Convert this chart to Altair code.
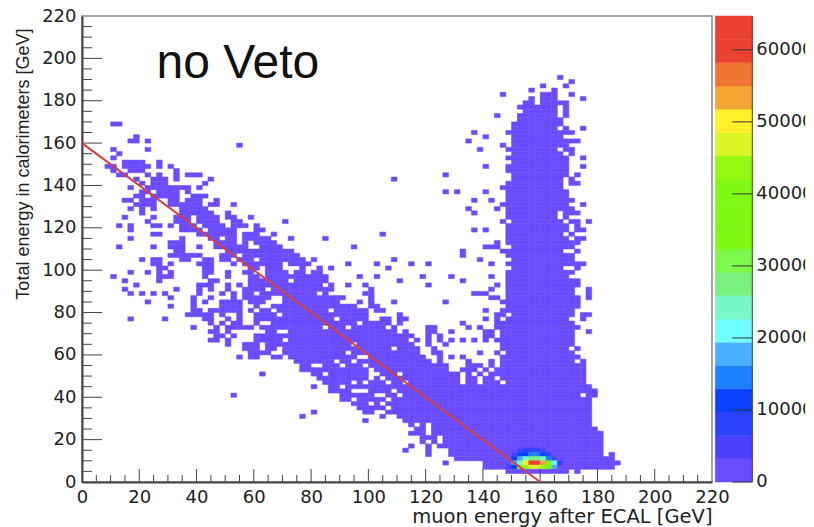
import altair as alt
import pandas as pd

alt.data_transformers.disable_max_rows()

# occupied bins per y-bin start: spans of x-bin edges in GeV (2 GeV bins)
rows = {
190: [(166,168)],
188: [(170,172)],
186: [(160,162),(168,170)],
184: [(156,158),(164,166)],
182: [(146,148),(160,166),(170,172)],
180: [(156,158),(160,166),(174,176)],
178: [(154,158),(160,170)],
176: [(152,166),(168,170)],
174: [(154,166),(168,170)],
172: [(144,146),(152,166),(168,170)],
170: [(152,168)],
168: [(10,14),(150,168)],
166: [(150,166),(168,170),(174,176)],
164: [(136,138),(148,172)],
162: [(18,20),(140,142),(150,168)],
160: [(16,20),(22,24),(134,136),(150,174)],
158: [(54,56),(146,148),(150,170)],
156: [(10,12),(22,24),(138,140),(148,166),(168,172)],
154: [(12,14),(150,168),(170,172)],
152: [(10,12),(148,170),(174,176)],
150: [(14,22),(26,28),(150,170)],
148: [(8,12),(14,24),(26,28),(30,32),(140,142),(148,170),(174,176)],
146: [(10,12),(16,22),(32,34),(148,170)],
144: [(12,16),(22,24),(26,28),(32,34),(36,42),(126,128),(150,170),(172,174)],
142: [(18,20),(24,30),(32,34),(44,46),(108,110),(150,168),(170,172)],
140: [(20,22),(24,30),(42,44),(148,168),(170,174)],
138: [(16,18),(22,38),(40,42),(146,168)],
136: [(20,24),(26,34),(36,38),(126,128),(130,132),(140,142),(148,170)],
134: [(18,22),(24,34),(38,44),(148,170)],
132: [(14,18),(20,26),(30,34),(36,42),(46,48),(136,138),(142,144),(148,172)],
130: [(18,26),(30,42),(44,48),(52,54),(146,170),(174,176)],
128: [(16,18),(20,22),(24,26),(34,44),(134,136),(144,146),(148,172)],
126: [(20,22),(34,46),(50,52),(136,138),(148,166),(168,174)],
124: [(14,16),(24,26),(32,38),(40,48),(50,54),(58,60),(148,166),(168,170)],
122: [(22,24),(32,38),(40,48),(52,56),(70,72),(146,148),(150,168),(170,174),(176,178)],
120: [(12,14),(16,18),(24,28),(30,32),(34,40),(42,50),(52,58),(60,62),(148,170),(172,174)],
118: [(16,18),(34,42),(44,54),(60,64),(136,138),(140,142),(148,170),(172,176)],
116: [(24,28),(40,54),(56,62),(66,68),(104,106),(148,168),(170,172)],
114: [(16,18),(34,36),(44,48),(50,54),(56,66),(72,74),(84,86),(148,170),(172,176)],
112: [(30,36),(46,54),(56,68),(144,146),(148,174)],
110: [(12,14),(24,26),(30,36),(40,42),(46,58),(60,70),(94,96),(140,146),(150,172)],
108: [(32,36),(48,74),(132,134),(146,148),(148,168),(172,174)],
106: [(30,42),(48,76),(132,134),(148,172)],
104: [(20,22),(24,28),(34,38),(42,46),(48,52),(54,78),(80,82),(108,110),(138,140),(150,172)],
102: [(24,28),(30,32),(40,46),(52,54),(56,70),(72,80),(92,94),(102,104),(114,116),(120,122),(142,144),(148,176)],
100: [(26,30),(42,46),(58,70),(76,78),(82,84),(86,88),(106,108),(150,168),(172,174)],
98: [(16,18),(22,24),(26,28),(30,32),(42,46),(50,52),(56,60),(64,72),(74,78),(80,84),(148,172)],
96: [(10,12),(26,32),(42,44),(50,52),(58,62),(64,86),(96,98),(102,104),(118,120),(128,130),(142,144),(148,170)],
94: [(14,16),(26,28),(44,48),(58,86),(110,112),(132,134),(148,174)],
92: [(18,20),(40,46),(50,52),(54,56),(58,84),(86,88),(92,94),(98,100),(120,122),(144,146),(148,174)],
90: [(14,16),(32,34),(40,42),(44,46),(50,52),(56,64),(66,88),(100,102),(142,144),(148,172),(176,178)],
88: [(16,18),(20,22),(24,26),(28,30),(40,42),(48,50),(52,54),(56,60),(62,86),(98,102),(136,142),(148,172),(176,178)],
86: [(30,32),(38,40),(44,46),(52,54),(56,66),(70,92),(100,102),(142,146),(148,174),(176,178)],
84: [(22,24),(38,40),(42,44),(48,56),(58,64),(70,94),(96,98),(100,102),(108,110),(126,128),(146,174)],
82: [(30,32),(38,40),(48,56),(60,62),(66,96),(100,104),(148,174)],
80: [(38,42),(44,56),(58,60),(62,66),(68,100),(102,106),(140,142),(146,172)],
78: [(36,46),(48,50),(54,56),(60,68),(70,100),(110,112),(144,148),(150,172),(174,178)],
76: [(16,18),(28,30),(42,46),(50,52),(54,56),(60,100),(104,108),(110,114),(140,142),(144,146),(148,170),(174,176)],
74: [(44,46),(48,50),(52,56),(60,62),(66,108),(110,112),(132,134),(144,172)],
72: [(38,40),(46,48),(50,60),(62,106),(108,110),(120,124),(134,136),(138,140),(144,174)],
70: [(44,48),(50,52),(64,68),(72,110),(112,114),(120,124),(128,130),(140,144),(146,172),(176,178)],
68: [(46,50),(52,54),(60,116),(120,122),(124,126),(140,144),(146,172)],
66: [(44,48),(50,52),(60,70),(72,114),(116,118),(120,122),(124,126),(128,130),(132,134),(136,138),(140,142),(144,172)],
64: [(50,52),(56,62),(64,116),(120,122),(126,128),(146,172)],
62: [(56,62),(64,68),(70,108),(110,118),(122,124),(146,170),(172,174)],
60: [(58,66),(70,118),(122,126),(138,140),(144,146),(148,172)],
58: [(54,56),(58,62),(66,70),(72,120),(124,126),(128,130),(132,134),(146,174)],
56: [(74,122),(124,126),(134,136),(142,144),(146,172),(174,176)],
54: [(76,80),(84,128),(134,140),(142,144),(146,176)],
52: [(76,128),(132,138),(140,142),(144,176)],
50: [(62,64),(80,84),(86,132),(134,136),(138,140),(142,176)],
48: [(82,132),(134,138),(140,144),(146,176)],
46: [(84,132),(134,138),(140,146),(148,176)],
44: [(80,82),(86,90),(92,178)],
42: [(86,94),(100,180)],
40: [(52,54),(90,174),(176,180)],
38: [(90,94),(96,178)],
36: [(94,100),(102,178)],
34: [(96,178)],
32: [(80,82),(98,102),(106,178)],
30: [(76,78),(104,106),(110,178)],
28: [(98,100),(112,178)],
26: [(114,116),(118,120),(122,178)],
24: [(116,120),(122,180)],
22: [(114,120),(122,182)],
20: [(118,124),(126,182)],
18: [(118,120),(122,124),(126,182)],
16: [(114,116),(120,122),(124,182)],
14: [(112,114),(120,122),(128,182)],
12: [(120,122),(128,182),(184,186)],
10: [(130,186)],
8: [(126,128),(140,188)],
6: [(140,186)],
4: [(148,170),(172,174)],
}

# empty bins inside the dense band
hole_x = [82,90,92,86,88,84,92,96,94,92,96,94,98,90,88,100,102,100,94,96,98,102,104,106,108,106,104,110,112,
          98,98,100,104,98,104,110,100,106,38,48,54,58,60,48,54,60,70,72,84,82,62,64]
hole_y = [88,84,84,80,76,72,72,74,64,60,58,56,54,54,56,52,50,48,46,42,42,40,36,38,42,46,48,50,46,
          58,54,50,48,46,40,40,36,34,122,114,112,112,110,108,106,104,102,94,92,88,100,90]

# entries around the peak: (x bin, y bin, entries)
peak_x = [150,152,154,156,158,160,162,164,166,
          148,150,152,154,156,158,160,162,164,
          150,152,154,156,158,160,162,164,
          150,152,154,156,158,160,162,
          152,154,156,158,160]
peak_y = [8]*9 + [6]*9 + [10]*8 + [12]*7 + [14]*5
peak_v = [18000,24000,50000,63000,63000,54000,34000,22000,8000,
          5000,12000,36000,44000,46000,46000,44000,36000,18000,
          10000,17000,24000,28000,28000,24000,14000,6000,
          5000,11000,12000,13000,13000,12000,9000,
          6000,7000,7000,7000,6000]
base_count = 1000

palette = ["#6a4bff","#4a40ff","#2c42ff","#0a40ff","#1c80ff","#48b0ff","#70ffff",
           "#78f8c8","#78f27c","#7ef84a","#7ff814","#7ff814","#7ff814","#94f810","#dcf524",
           "#fff028","#f5a533","#f07530","#ec4030","#ec4030"]
level_step = 3235
levels = [i*level_step for i in range(1, 20)]
x_major = list(range(0, 221, 20))
y_major = list(range(0, 221, 20))
minor = [v for v in range(0, 221, 5) if v % 20]
bar_ticks = [0, 10000, 20000, 30000, 40000, 50000, 60000]
bar_labels = ["0", "10000", "20000", "30000", "40000", "50000", "60000"]

peak = {(a, b): c for a, b, c in zip(peak_x, peak_y, peak_v)}
holes = set(zip(hole_x, hole_y))
cells = []
for yb, spans in rows.items():
    for a, e in spans:
        for xb in range(a, e, 2):
            if (xb, yb) not in holes:
                cells.append(dict(x=xb, x2=xb+2, y=yb, y2=yb+2, v=peak.get((xb, yb), base_count)))
df = pd.DataFrame(cells)

FONT = "DejaVu Sans"
sx = alt.Scale(domain=[0, 220], nice=False, zero=False)
sy = alt.Scale(domain=[0, 220], nice=False, zero=False)
color_scale = alt.Scale(type="threshold", domain=levels, range=palette)

heat = alt.Chart(df).mark_rect(strokeWidth=0.5).encode(
    x=alt.X("x:Q", scale=sx, axis=alt.Axis(
        title="muon energy after ECAL [GeV]", values=x_major, ticks=False, grid=False,
        labelFont=FONT, labelFontSize=18, labelColor="#222", labelPadding=6, labelOverlap=False, labelFlush=False,
        domainColor="#444", domainWidth=2,
        titleFont="DejaVu Sans", titleFontSize=19.5, titleFontWeight="normal", titleColor="#222",
        titleAlign="right", titleAnchor="end", titleX=630, titleY=40, titleBaseline="alphabetic")),
    x2="x2:Q",
    y=alt.Y("y:Q", scale=sy, axis=alt.Axis(
        title="Total energy in calorimeters [GeV]", values=y_major, ticks=False, grid=False,
        labelFont=FONT, labelFontSize=18, labelColor="#222", labelPadding=6, labelOverlap=False, labelFlush=False,
        domainColor="#444", domainWidth=2,
        titleFont="Liberation Sans", titleFontSize=18, titleFontWeight="normal", titleColor="#222",
        titleAlign="right", titleX=-54, titleY=12, titleAngle=-90, titleBaseline="alphabetic")),
    y2="y2:Q",
    color=alt.Color("v:Q", scale=color_scale, legend=None),
    stroke=alt.Stroke("v:Q", scale=color_scale, legend=None),
)

def xticks(vals, h):
    return alt.Chart(pd.DataFrame({"x": vals})).mark_rule(color="#444", strokeWidth=1).encode(
        x=alt.X("x:Q", scale=sx), y=alt.value(466), y2=alt.value(466-h))

def yticks(vals, w):
    return alt.Chart(pd.DataFrame({"y": vals})).mark_rule(color="#444", strokeWidth=1).encode(
        y=alt.Y("y:Q", scale=sy), x=alt.value(0), x2=alt.value(w))

line_x = [0, 160]
line_y = [160, 0]
red = alt.Chart(pd.DataFrame({"x": line_x, "y": line_y})).mark_line(color="#d24040", strokeWidth=2).encode(
    x=alt.X("x:Q", scale=sx), y=alt.Y("y:Q", scale=sy))

label = alt.Chart(pd.DataFrame({"x": [26], "y": [190.6], "t": ["no Veto"]})).mark_text(
    align="left", baseline="alphabetic", font="Liberation Sans", fontSize=48, color="#111"
).encode(x=alt.X("x:Q", scale=sx), y=alt.Y("y:Q", scale=sy), text="t:N")

main = alt.layer(heat, xticks(minor, 7), xticks([v for v in x_major if 0 < v < 220], 13),
                 yticks(minor, 10), yticks([v for v in y_major if 0 < v < 220], 20),
                 red, label).properties(width=630, height=466)

lo = [0] + levels
hi = levels + [64700]
bar_df = pd.DataFrame({"lo": lo, "hi": hi, "c": palette})
sb = alt.Scale(domain=[0, 64700], nice=False, zero=False)
bar = alt.Chart(bar_df).mark_rect(strokeWidth=0.5).encode(
    x=alt.value(0), x2=alt.value(37),
    y=alt.Y("lo:Q", scale=sb, axis=None),
    y2="hi:Q",
    color=alt.Color("c:N", scale=None),
    stroke=alt.Stroke("c:N", scale=None),
)
edge = alt.Chart(pd.DataFrame({"y": [0], "y2": [64700]})).mark_rule(color="#444", strokeWidth=1).encode(
    y=alt.Y("y:Q", scale=sb, axis=None), y2="y2:Q", x=alt.value(37))
tick_df = pd.DataFrame({"y": bar_ticks, "t": bar_labels})
bar_rules = alt.Chart(tick_df).mark_rule(color="#333", strokeWidth=1).encode(
    y=alt.Y("y:Q", scale=sb, axis=None), x=alt.value(17), x2=alt.value(37))
bar_text = alt.Chart(tick_df.iloc[1:]).mark_text(
    align="left", baseline="middle", font=FONT, fontSize=18, color="#222", clip=True
).encode(y=alt.Y("y:Q", scale=sb, axis=None), x=alt.value(41), text="t:N")
bar_zero = alt.Chart(tick_df.iloc[:1]).mark_text(
    align="left", baseline="middle", font=FONT, fontSize=18, color="#222"
).encode(y=alt.Y("y:Q", scale=sb, axis=None), x=alt.value(41), text="t:N")
colorbar = alt.layer(bar, edge, bar_rules, bar_text, bar_zero).properties(width=90, height=466, view=alt.ViewConfig(stroke=None))

chart = alt.hconcat(main, colorbar, spacing=3.3, bounds="flush").resolve_scale(color="independent", y="independent", x="independent").properties(
    padding={"left": 5, "top": -2, "right": 0, "bottom": 0}, background="white"
).configure_view(stroke="#888", strokeWidth=1.5)

chart.save("out.html", embed_options={"renderer": "svg", "actions": False})
